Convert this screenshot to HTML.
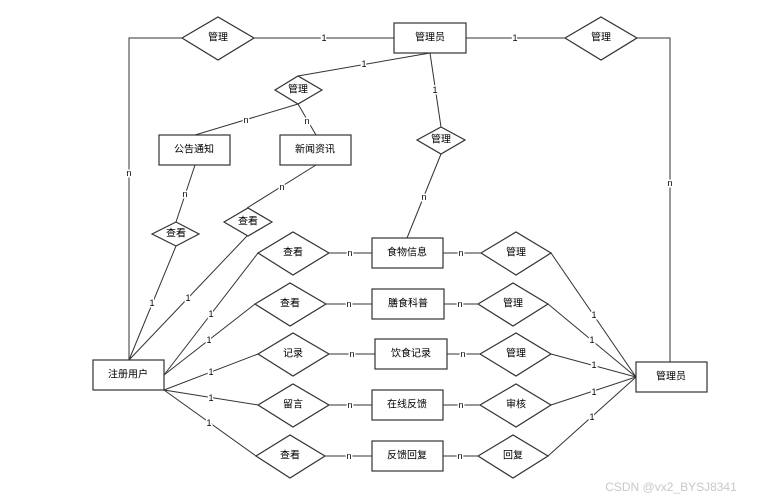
<!DOCTYPE html>
<html><head><meta charset="utf-8"><style>
body{margin:0;background:#fff}
svg{display:block}
text{font-family:"Liberation Sans","Noto Sans CJK SC",sans-serif;font-size:10px;fill:#000;text-anchor:middle;dominant-baseline:central}
.l{stroke:#333;stroke-width:1;fill:none}
.b{stroke:#333;stroke-width:1.2;fill:#fff}
.c{font-size:9px}
.c{paint-order:stroke;stroke:#fff;stroke-width:3px}
</style></head><body>
<svg width="757" height="501" viewBox="0 0 757 501">
<!-- top lines -->
<polyline class="l" points="182,38 129,38 129,360"/>
<line class="l" x1="254" y1="38" x2="394" y2="38"/>
<line class="l" x1="466" y1="38" x2="565" y2="38"/>
<polyline class="l" points="637,38 670,38 670,362"/>
<line class="l" x1="298" y1="76" x2="430" y2="53"/>
<line class="l" x1="298" y1="104" x2="195" y2="135"/>
<line class="l" x1="298" y1="104" x2="316" y2="135"/>
<line class="l" x1="430" y1="53" x2="441" y2="127"/>
<line class="l" x1="441" y1="154" x2="407" y2="238"/>
<line class="l" x1="195" y1="165" x2="176" y2="222"/>
<line class="l" x1="176" y1="246" x2="129" y2="360"/>
<line class="l" x1="316" y1="165" x2="247" y2="208"/>
<line class="l" x1="247" y1="236" x2="129" y2="360"/>
<!-- left fan -->
<line class="l" x1="164" y1="375" x2="258" y2="253"/>
<line class="l" x1="164" y1="375" x2="255" y2="304"/>
<line class="l" x1="164" y1="390" x2="258" y2="354"/>
<line class="l" x1="164" y1="390" x2="258" y2="405"/>
<line class="l" x1="164" y1="390" x2="256" y2="456"/>
<!-- rows -->
<line class="l" x1="329" y1="253" x2="481" y2="253"/>
<line class="l" x1="326" y1="304" x2="478" y2="304"/>
<line class="l" x1="329" y1="354" x2="480" y2="354"/>
<line class="l" x1="329" y1="405" x2="480" y2="405"/>
<line class="l" x1="325" y1="456" x2="478" y2="456"/>
<!-- right fan -->
<line class="l" x1="551" y1="253" x2="636" y2="377"/>
<line class="l" x1="548" y1="304" x2="636" y2="377"/>
<line class="l" x1="551" y1="354" x2="636" y2="377"/>
<line class="l" x1="551" y1="405" x2="636" y2="377"/>
<line class="l" x1="548" y1="456" x2="636" y2="377"/>
<!-- diamonds -->
<polygon class="b" points="182,38 218,17 254,38 218,60"/><text x="218" y="38">管理</text>
<polygon class="b" points="565,38 601,17 637,38 601,60"/><text x="601" y="38">管理</text>
<polygon class="b" points="275,90 298,76 322,90 298,104"/><text x="298" y="90">管理</text>
<polygon class="b" points="417,140 441,127 465,140 441,154"/><text x="441" y="140">管理</text>
<polygon class="b" points="152,234 176,222 199,234 176,246"/><text x="176" y="234">查看</text>
<polygon class="b" points="224,222 248,208 272,222 248,236"/><text x="248" y="222">查看</text>
<polygon class="b" points="258,253 293,232 329,253 293,275"/><text x="293" y="253">查看</text>
<polygon class="b" points="255,304 290,283 326,304 290,326"/><text x="290" y="304">查看</text>
<polygon class="b" points="258,354 293,333 329,354 293,376"/><text x="293" y="354">记录</text>
<polygon class="b" points="258,405 293,384 329,405 293,427"/><text x="293" y="405">留言</text>
<polygon class="b" points="256,456 290,435 325,456 290,478"/><text x="290" y="456">查看</text>
<polygon class="b" points="481,253 516,232 551,253 516,275"/><text x="516" y="253">管理</text>
<polygon class="b" points="478,304 513,283 548,304 513,326"/><text x="513" y="304">管理</text>
<polygon class="b" points="480,354 516,333 551,354 516,376"/><text x="516" y="354">管理</text>
<polygon class="b" points="480,405 516,384 551,405 516,427"/><text x="516" y="405">审核</text>
<polygon class="b" points="478,456 513,435 548,456 513,478"/><text x="513" y="456">回复</text>
<!-- boxes -->
<rect class="b" x="394" y="23" width="72" height="30"/><text x="430" y="38">管理员</text>
<rect class="b" x="636" y="362" width="71" height="30"/><text x="671" y="377">管理员</text>
<rect class="b" x="93" y="360" width="71" height="30"/><text x="128" y="375">注册用户</text>
<rect class="b" x="159" y="135" width="71" height="30"/><text x="194" y="150">公告通知</text>
<rect class="b" x="280" y="135" width="71" height="30"/><text x="315" y="150">新闻资讯</text>
<rect class="b" x="372" y="238" width="71" height="30"/><text x="407" y="253">食物信息</text>
<rect class="b" x="372" y="289" width="72" height="30"/><text x="408" y="304">膳食科普</text>
<rect class="b" x="375" y="339" width="72" height="30"/><text x="411" y="354">饮食记录</text>
<rect class="b" x="372" y="390" width="71" height="30"/><text x="407" y="405">在线反馈</text>
<rect class="b" x="372" y="441" width="71" height="30"/><text x="407" y="456">反馈回复</text>
<!-- cardinalities -->
<g class="c">
<text class="c" x="324" y="38">1</text><text class="c" x="515" y="38">1</text>
<text class="c" x="129" y="173">n</text><text class="c" x="670" y="183">n</text>
<text class="c" x="364" y="64">1</text><text class="c" x="246" y="120">n</text><text class="c" x="307" y="121">n</text>
<text class="c" x="435" y="90">1</text><text class="c" x="424" y="197">n</text>
<text class="c" x="185" y="194">n</text><text class="c" x="282" y="187">n</text>
<text class="c" x="152" y="303">1</text><text class="c" x="188" y="298">1</text>
<text class="c" x="211" y="314">1</text><text class="c" x="209" y="340">1</text><text class="c" x="211" y="372">1</text><text class="c" x="211" y="398">1</text><text class="c" x="209" y="423">1</text>
<text class="c" x="350" y="253">n</text><text class="c" x="349" y="304">n</text><text class="c" x="352" y="354">n</text><text class="c" x="350" y="405">n</text><text class="c" x="349" y="456">n</text>
<text class="c" x="461" y="253">n</text><text class="c" x="460" y="304">n</text><text class="c" x="463" y="354">n</text><text class="c" x="461" y="405">n</text><text class="c" x="460" y="456">n</text>
<text class="c" x="594" y="315">1</text><text class="c" x="592" y="340">1</text><text class="c" x="594" y="365">1</text><text class="c" x="594" y="392">1</text><text class="c" x="592" y="417">1</text>
</g>
<text x="671" y="487" style="font-size:12px;fill:#c8c8c8">CSDN @vx2_BYSJ8341</text>
</svg>
</body></html>
